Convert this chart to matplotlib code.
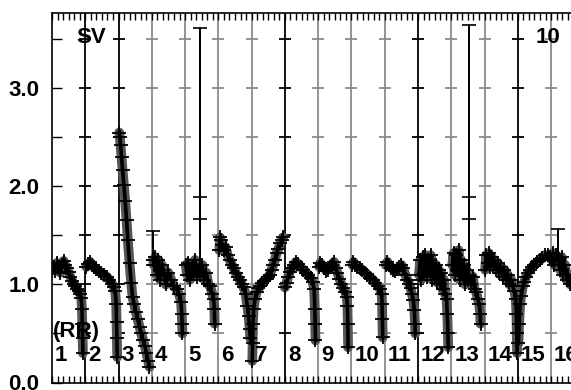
import matplotlib
matplotlib.use("Agg")
import matplotlib.pyplot as plt
import numpy as np

# stroke volume ratio per beat; phase = position inside the RR interval (0..1)
ph01 = [0.00, 0.05, 0.10, 0.15, 0.20, 0.25, 0.30, 0.35, 0.40, 0.45, 0.50, 0.55, 0.60, 0.65, 0.70, 0.75, 0.80, 0.85, 0.88, 0.90, 0.91, 0.92, 0.93]
sv01 = [1.15, 1.18, 1.14, 1.22, 1.17, 1.12, 1.20, 1.24, 1.20, 1.17, 1.13, 1.08, 1.04, 1.01, 0.98, 0.95, 0.93, 0.90, 0.86, 0.75, 0.60, 0.45, 0.30]
ph02 = [0.03, 0.08, 0.14, 0.20, 0.26, 0.32, 0.40, 0.48, 0.56, 0.64, 0.72, 0.80, 0.86, 0.90, 0.93, 0.94, 0.95, 0.96]
sv02 = [1.18, 1.21, 1.23, 1.20, 1.18, 1.16, 1.14, 1.12, 1.10, 1.08, 1.05, 1.01, 0.97, 0.93, 0.80, 0.62, 0.45, 0.26]
ph03 = [0.02, 0.04, 0.06, 0.09, 0.12, 0.16, 0.20, 0.24, 0.28, 0.33, 0.38, 0.42, 0.47, 0.52, 0.57, 0.63, 0.68, 0.74, 0.79, 0.84, 0.89, 0.93]
sv03 = [2.55, 2.50, 2.42, 2.30, 2.17, 2.02, 1.85, 1.66, 1.45, 1.22, 1.02, 0.87, 0.80, 0.72, 0.65, 0.57, 0.50, 0.43, 0.37, 0.30, 0.22, 0.16]
ph04 = [0.04, 0.06, 0.10, 0.15, 0.20, 0.25, 0.30, 0.35, 0.42, 0.50, 0.58, 0.66, 0.75, 0.82, 0.88, 0.90, 0.91, 0.92]
sv04 = [1.25, 1.20, 1.28, 1.10, 1.25, 1.05, 1.20, 1.15, 1.00, 1.12, 1.05, 0.98, 0.95, 0.90, 0.82, 0.70, 0.60, 0.50]
ph05 = [0.02, 0.06, 0.10, 0.15, 0.20, 0.25, 0.30, 0.35, 0.40, 0.46, 0.52, 0.58, 0.64, 0.70, 0.76, 0.82, 0.86, 0.88, 0.89]
sv05 = [1.20, 1.10, 1.22, 1.05, 1.18, 1.12, 1.25, 1.08, 1.15, 1.10, 1.20, 1.05, 1.12, 1.00, 0.98, 0.90, 0.85, 0.75, 0.60]
ph06 = [0.03, 0.05, 0.08, 0.12, 0.17, 0.22, 0.28, 0.34, 0.40, 0.46, 0.52, 0.58, 0.64, 0.70, 0.76, 0.82, 0.87, 0.91, 0.94, 0.96]
sv06 = [1.35, 1.48, 1.45, 1.40, 1.35, 1.38, 1.30, 1.25, 1.20, 1.17, 1.12, 1.08, 1.05, 1.00, 0.97, 0.90, 0.78, 0.68, 0.55, 0.45]
ph07 = [0.02, 0.03, 0.04, 0.06, 0.10, 0.15, 0.20, 0.26, 0.32, 0.38, 0.45, 0.50, 0.55, 0.60, 0.65, 0.70, 0.75, 0.80, 0.86, 0.90, 0.95]
sv07 = [0.22, 0.40, 0.60, 0.75, 0.85, 0.92, 0.96, 0.98, 1.02, 1.04, 1.06, 1.08, 1.10, 1.15, 1.20, 1.25, 1.32, 1.36, 1.42, 1.45, 1.48]
ph08 = [0.00, 0.05, 0.10, 0.15, 0.20, 0.27, 0.33, 0.40, 0.47, 0.55, 0.63, 0.70, 0.77, 0.83, 0.88, 0.90, 0.91, 0.92]
sv08 = [0.97, 1.02, 1.08, 1.13, 1.17, 1.20, 1.23, 1.21, 1.18, 1.15, 1.12, 1.10, 1.07, 1.03, 0.95, 0.75, 0.60, 0.43]
ph09 = [0.03, 0.06, 0.12, 0.18, 0.24, 0.30, 0.36, 0.42, 0.48, 0.53, 0.58, 0.64, 0.70, 0.76, 0.82, 0.86, 0.88, 0.89, 0.90]
sv09 = [1.18, 1.22, 1.20, 1.17, 1.14, 1.15, 1.18, 1.20, 1.23, 1.17, 1.12, 1.06, 1.00, 0.96, 0.92, 0.87, 0.78, 0.60, 0.36]
ph10 = [0.03, 0.06, 0.12, 0.18, 0.25, 0.32, 0.40, 0.48, 0.56, 0.64, 0.72, 0.80, 0.87, 0.91, 0.92, 0.93, 0.94]
sv10 = [1.20, 1.23, 1.20, 1.18, 1.17, 1.15, 1.12, 1.10, 1.07, 1.05, 1.02, 0.98, 0.95, 0.90, 0.80, 0.65, 0.46]
ph11 = [0.03, 0.08, 0.14, 0.20, 0.26, 0.32, 0.38, 0.44, 0.50, 0.56, 0.62, 0.68, 0.74, 0.78, 0.82, 0.86, 0.89, 0.91, 0.92]
sv11 = [1.20, 1.23, 1.20, 1.17, 1.15, 1.14, 1.16, 1.18, 1.20, 1.17, 1.10, 1.05, 1.00, 0.96, 0.90, 0.84, 0.74, 0.60, 0.50]
ph12 = [0.03, 0.07, 0.10, 0.14, 0.18, 0.22, 0.26, 0.30, 0.34, 0.38, 0.42, 0.46, 0.50, 0.54, 0.58, 0.62, 0.66, 0.70, 0.74, 0.78, 0.82, 0.86, 0.88, 0.90, 0.91]
sv12 = [1.10, 1.25, 1.05, 1.28, 1.12, 1.30, 1.08, 1.25, 1.15, 1.30, 1.05, 1.22, 1.10, 1.20, 1.02, 1.15, 1.00, 1.12, 0.95, 1.05, 0.90, 0.85, 0.70, 0.50, 0.36]
ph13 = [0.03, 0.07, 0.10, 0.14, 0.18, 0.22, 0.26, 0.30, 0.34, 0.38, 0.42, 0.46, 0.50, 0.54, 0.60, 0.65, 0.70, 0.75, 0.80, 0.84, 0.87, 0.88]
sv13 = [1.20, 1.32, 1.10, 1.30, 1.15, 1.35, 1.05, 1.25, 1.10, 1.20, 1.00, 1.15, 1.05, 1.10, 1.00, 1.08, 0.95, 0.92, 0.85, 0.80, 0.70, 0.60]
ph14 = [0.02, 0.05, 0.09, 0.13, 0.17, 0.21, 0.25, 0.30, 0.35, 0.40, 0.45, 0.50, 0.55, 0.60, 0.65, 0.70, 0.75, 0.80, 0.85, 0.90, 0.94, 0.96, 0.97, 0.98]
sv14 = [1.15, 1.30, 1.22, 1.32, 1.18, 1.28, 1.20, 1.25, 1.15, 1.22, 1.12, 1.18, 1.08, 1.15, 1.05, 1.10, 1.00, 1.05, 0.98, 0.93, 0.85, 0.70, 0.50, 0.30]
ph15 = [0.02, 0.04, 0.07, 0.10, 0.15, 0.20, 0.25, 0.30, 0.37, 0.44, 0.50, 0.58, 0.66, 0.74, 0.82, 0.90, 0.97]
sv15 = [0.40, 0.60, 0.80, 0.88, 0.98, 1.03, 1.08, 1.12, 1.15, 1.18, 1.20, 1.23, 1.25, 1.27, 1.30, 1.30, 1.28]
ph16 = [0.02, 0.06, 0.10, 0.15, 0.22, 0.27, 0.32, 0.37, 0.42, 0.47, 0.52, 0.58, 0.65, 0.72, 0.80]
sv16 = [1.25, 1.32, 1.20, 1.30, 1.25, 1.15, 1.28, 1.10, 1.20, 1.05, 1.10, 1.00, 1.05, 0.98, 0.95]

phases = [ph01, ph02, ph03, ph04, ph05, ph06, ph07, ph08,
          ph09, ph10, ph11, ph12, ph13, ph14, ph15, ph16]
values = [sv01, sv02, sv03, sv04, sv05, sv06, sv07, sv08,
          sv09, sv10, sv11, sv12, sv13, sv14, sv15, sv16]

# isolated artefact beats: (beat index, phase, values along the spike)
spike_beat = [4, 5, 13, 16]
spike_phase = [0.04, 0.46, 0.54, 0.21]
spike_vals = [[1.20, 1.55, 1.25], [1.10, 1.67, 3.62, 1.89, 1.15],
              [1.10, 1.67, 3.65, 1.89, 1.05], [1.20, 1.57, 1.25]]

beat_labels = [str(i) for i in range(1, 17)]
# beat boundary lines (after beat 1..15); 'k' = black, 'g' = gray
boundary_pos = list(range(1, 16))
boundary_col = ["k", "k", "g", "g", "g", "g", "k", "g", "g", "g", "k", "g", "g", "k", "g"]
rule_levels = [0.5, 1.0, 1.5, 2.0, 2.5, 3.0, 3.5]
ytick_major = [0.0, 1.0, 2.0, 3.0]
ytick_labels = ["0.0", "1.0", "2.0", "3.0"]

plt.rcParams["font.family"] = ["Liberation Sans", "DejaVu Sans"]
plt.rcParams["font.weight"] = "bold"

W, H = 571, 390
fig = plt.figure(figsize=(W / 100, H / 100), dpi=100)
unit = 33.27  # pixels per beat
xmax = 17
ax = fig.add_axes([52 / W, 7.5 / H, xmax * unit / W, 369.5 / H])
ax.set_xlim(0, xmax)
ax.set_ylim(0, 3.77)

gray = "#8a8a8a"
for xb, c in zip(boundary_pos, boundary_col):
    col = "black" if c == "k" else gray
    ax.axvline(xb, color=col, lw=1.3, zorder=1)
    ax.plot([xb] * len(rule_levels), rule_levels, ls="none", marker="_",
            ms=9, mew=1.3, color=col, zorder=1)

for i, (ph, sv) in enumerate(zip(phases, values)):
    x = i + np.asarray(ph)
    ax.plot(x, sv, color="#555555", lw=7, solid_capstyle="round",
            solid_joinstyle="round", zorder=2)
    ax.plot(x, sv, color="black", lw=2.6, marker="+", ms=10, mew=1.3, zorder=3)

for b, p, vals in zip(spike_beat, spike_phase, spike_vals):
    ax.plot([b - 1 + p] * len(vals), vals, color="black", lw=1.1,
            marker="_", ms=10, mew=1.2, zorder=3)

fs = 16
for i, lab in enumerate(beat_labels):
    ax.text(i + 0.09, 0.28, lab, fontsize=fs, fontweight="bold", ha="left", va="center")
ax.text(0.02, 0.52, "(RR)", fontsize=fs, fontweight="bold", ha="left", va="center")
ax.text(0.72, 3.52, "SV", fontsize=fs, fontweight="bold", ha="left", va="center")
ax.text(14.55, 3.52, "10", fontsize=fs, fontweight="bold", ha="left", va="center")

ax.set_yticks(ytick_major)
ax.set_yticklabels(ytick_labels, fontsize=fs, fontweight="bold")
ax.set_yticks(rule_levels, minor=True)
ax.tick_params(axis="y", which="both", direction="in", length=7, width=1, pad=9)
ax.set_xticks(np.arange(0, xmax + 0.01, 1 / 6), minor=True)
ax.set_xticks([])
ax.tick_params(axis="x", which="minor", direction="in", length=5, width=1,
               top=True, bottom=True)
ax.spines["right"].set_visible(False)
for s in ("left", "top", "bottom"):
    ax.spines[s].set_linewidth(1.2)

fig.savefig("out.png", dpi=100)
